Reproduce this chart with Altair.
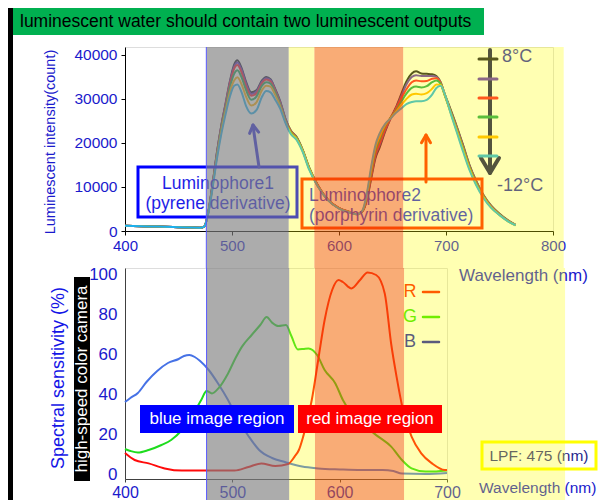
import altair as alt
import pandas as pd

FONT = "Liberation Sans"
AX_BLUE = "#1a1acc"

# ---------------- top panel: luminescence spectra (count) ----------------
wavelength_top = [400, 415, 430, 445, 460, 470, 474, 478, 482, 486, 490, 494, 498, 502, 505,
                  509, 513, 518, 523, 528, 532, 536, 540, 545, 550, 555, 560, 566, 572, 580,
                  590, 600, 610, 617, 622, 626, 630, 634, 638, 643, 648, 653, 658, 663, 668,
                  672, 677, 682, 687, 691, 695, 699, 704, 710, 716, 722, 728, 735, 742, 750,
                  758, 765]

temp_8C = [1200, 1100, 1000, 900, 800, 750, 1000, 4500, 11000, 18000,
           24000, 29000, 34000, 37800, 38800, 37000, 34000, 31500, 32000, 34200,
           35000, 34500, 32500, 29500, 25500, 22800, 21500, 18500, 14500, 10500,
           7000, 5200, 4300, 3800, 4500, 7000, 11800, 16500, 19000, 22500,
           25500, 28000, 31000, 34000, 35800, 36300, 35800, 35700, 35600, 35200,
           33800, 31000, 27800, 23800, 19500, 15000, 11500, 8200, 5800, 3900,
           2400, 1400]
temp_4C = [1200, 1100, 1000, 900, 800, 750, 1000, 4500, 10900, 17900,
           23800, 28800, 33700, 37300, 38300, 36600, 33600, 31100, 31700, 33900,
           34700, 34300, 32300, 29300, 25400, 22700, 21400, 18400, 14400, 10400,
           7000, 5200, 4300, 3800, 4500, 7200, 12200, 17000, 19500, 22800,
           25500, 27800, 30500, 33300, 35000, 35400, 35200, 35200, 35200, 35000,
           33700, 30900, 27600, 23600, 19300, 14800, 11400, 8100, 5700, 3800,
           2350, 1400]
temp_0C = [1200, 1100, 1000, 900, 800, 750, 1000, 4500, 10800, 17700,
           23700, 28600, 33400, 36900, 37700, 36000, 33000, 30700, 31300, 33600,
           34400, 34000, 32100, 29100, 25200, 22600, 21300, 18300, 14300, 10400,
           7000, 5200, 4300, 3800, 4550, 7400, 12600, 17500, 20000, 23200,
           25600, 27600, 30000, 32200, 33800, 34200, 34000, 34100, 34600, 34700,
           33600, 30800, 27400, 23300, 19000, 14600, 11200, 8000, 5600, 3750,
           2300, 1350]
temp_m4C = [1200, 1100, 1000, 900, 800, 750, 1000, 4400, 10600, 17400,
            23300, 28000, 32600, 35700, 36500, 34900, 32100, 29800, 30600, 33000,
            33800, 33500, 31700, 28800, 25000, 22400, 21200, 18300, 14300, 10300,
            6950, 5150, 4250, 3800, 4600, 7700, 13100, 18200, 20700, 23700,
            25700, 27300, 29300, 31200, 32500, 32800, 32600, 32900, 33800, 34200,
            33400, 30700, 27300, 23100, 18800, 14400, 11000, 7900, 5500, 3700,
            2250, 1350]
temp_m8C = [1200, 1100, 1000, 900, 800, 750, 1000, 4300, 10300, 17000,
            22700, 27300, 31600, 34200, 34900, 33300, 30600, 28500, 29300, 32000,
            33000, 32800, 31100, 28400, 24800, 22200, 21000, 18200, 14200, 10300,
            6950, 5150, 4250, 3800, 4650, 8100, 13800, 18900, 21400, 24000,
            25600, 27000, 28600, 30000, 31000, 31200, 31000, 31300, 32300, 33300,
            33200, 30800, 27100, 22800, 18400, 14100, 10700, 7700, 5400, 3650,
            2200, 1300]
temp_m12C = [1200, 1100, 1000, 900, 800, 750, 1000, 4200, 10000, 16500,
             22000, 26500, 30500, 33000, 33300, 31500, 28500, 26700, 27500, 30500,
             31800, 31500, 30000, 27800, 24500, 22000, 20800, 18000, 14000, 10200,
             6900, 5100, 4200, 3800, 4700, 8500, 14500, 19500, 22200, 24300,
             25500, 26800, 27800, 28800, 29300, 29500, 29500, 29800, 31000, 32500,
             33000, 31000, 27000, 22500, 18000, 13800, 10500, 7500, 5300, 3600,
             2200, 1300]

temp_series = [temp_8C, temp_4C, temp_0C, temp_m4C, temp_m8C, temp_m12C]
temp_colors = ["#10102a", "#5b29c1", "#ff102b", "#13a256", "#ffb000", "#1ab0f0"]

# ---------------- bottom panel: camera spectral sensitivity (%) ----------------
wl_B = [400, 405, 412, 420, 430, 440, 450, 455, 460, 465, 470, 478, 487, 496, 505,
        515, 525, 537, 549, 565, 580, 600, 620, 640, 650, 658, 680, 700]
sens_B = [36, 38, 40.5, 46, 51.5, 55.5, 57.5, 59, 59.5, 58.5, 56.5, 52, 45, 37, 27.5,
          19, 12, 8, 6, 3.7, 2.8, 2.3, 2, 2, 1.5, 0.2, 0, 0.5]
wl_G = [400, 405, 412, 422, 434, 443, 453, 462, 471, 476, 481, 487, 496, 503, 509,
        518, 526, 532, 537, 543, 550, 555, 561, 566, 571, 579, 586, 596, 603, 611,
        624, 636, 648, 658, 667, 680, 690, 700]
sens_G = [12.5, 11.5, 10.7, 12, 14.5, 17, 22, 28.7, 37, 41.5, 40.3, 42.8, 50.3, 58, 63.7,
          69.5, 74.5, 78.5, 75.7, 74, 74.5, 69, 62.3, 62.5, 62.8, 59.5, 52, 45.3, 37, 30.3,
          23.7, 18.7, 13.7, 7, 2.8, 1.2, 1.3, 1.7]
wl_R = [400, 409, 422, 437, 453, 470, 484, 502, 515, 527, 540, 552, 558, 562, 566,
        570, 574, 580, 586, 593, 599, 603, 611, 619, 626, 634, 642, 648, 653, 659,
        667, 676, 686, 698, 700]
sens_R = [10.5, 7, 5.3, 2.8, 1.7, 1.7, 1.7, 1.7, 3.5, 5.3, 4, 5, 8.7, 12, 18.7,
          27, 37, 57, 77, 92, 97, 96, 92.8, 97, 100.7, 99.5, 90.3, 65, 48.7, 32,
          18.7, 10.3, 5.3, 2, 2]

# ---------------- shaded wavelength bands ----------------
band_start = [476, 553, 577, 660]
band_end = [553, 577, 660, 810]
band_fill = ["#7f7f7f", "#ffff00", "#f46806", "#ffff00"]
band_alpha = [0.65, 0.3, 0.55, 0.3]

W_TOP, H_TOP = 428, 184
W_BOT, H_BOT = 322, 211
GAP = 37

one = pd.DataFrame({"k": [0]})
bands = pd.DataFrame({"start": band_start, "end": band_end, "fill": band_fill, "alpha": band_alpha})


def box(x, x2, y, y2, **kw):
    return alt.Chart(one).mark_rect(**kw).encode(
        x=alt.value(x), x2=alt.value(x2), y=alt.value(y), y2=alt.value(y2))


def label(txt, x, y, **kw):
    return alt.Chart(one).mark_text(text=txt, font=FONT, **kw).encode(
        x=alt.value(x), y=alt.value(y))


def seg(x, y, x2, y2, color, width):
    return alt.Chart(one).mark_rule(color=color, strokeWidth=width, strokeCap="round").encode(
        x=alt.value(x), y=alt.value(y), x2=alt.value(x2), y2=alt.value(y2))


# ---------- top chart ----------
xs_top = alt.Scale(domain=[400, 800], nice=False, zero=False)
ys_top = alt.Scale(domain=[0, 41800], nice=False)
xax_top = alt.Axis(values=[400, 500, 600, 700, 800], format="d", title=None, grid=False,
                   labelColor=AX_BLUE, labelFontSize=15, labelFont=FONT, tickSize=4,
                   tickColor="#000", domainColor="#000", labelPadding=3,
                   labelFlush=False, labelOverlap=False)
yax_top = alt.Axis(values=[0, 10000, 20000, 30000, 40000], format="d", title=None, grid=False,
                   labelColor=AX_BLUE, labelFontSize=15.5, labelFont=FONT, tickSize=4,
                   tickColor="#000", domainColor="#000", labelPadding=4,
                   labelFlush=False, labelOverlap=False)

top_layers = [
    box(-117, -112, -39, 453, color="#000000"),
    box(-112, 359, -39, -12, color="#00b050"),
    label("luminescent water should contain two luminescent outputs", -105, -25.5,
          align="left", baseline="middle", fontSize=17.5, color="#000000"),
    label("Luminescent intensity(count)", -74, 95, angle=270, align="center",
          baseline="middle", fontSize=14.5, color=AX_BLUE),
]
for vals, col in zip(temp_series, temp_colors):
    df = pd.DataFrame({"wl": wavelength_top, "I": vals})
    top_layers.append(
        alt.Chart(df).mark_line(color=col, strokeWidth=2, interpolate="monotone").encode(
            x=alt.X("wl:Q", scale=xs_top, axis=xax_top),
            y=alt.Y("I:Q", scale=ys_top, axis=yax_top)))

# Luminophore 1 box + arrow
top_layers += [
    box(13, 172, 120, 170, fillOpacity=0, stroke="#0000ff", strokeWidth=3),
    label("Luminophore1", 93, 137, align="center", baseline="middle", fontSize=17.5, color="#1e1ee6"),
    label("(pyrene derivative)", 93, 157, align="center", baseline="middle", fontSize=17.5, color="#1e1ee6"),
    seg(134, 120, 128, 79, "#2a2ae0", 3),
    seg(128, 78, 124.6, 86.4, "#2a2ae0", 3),
    seg(128, 78, 133.6, 85.1, "#2a2ae0", 3),
    # Luminophore 2 box + arrow
    box(177, 357, 132, 181, fillOpacity=0, stroke="#ff1e00", strokeWidth=3),
    label("Luminophore2", 184, 149, align="left", baseline="middle", fontSize=17.5, color="#1e1ee6"),
    label("(porphyrin derivative)", 184, 169, align="left", baseline="middle", fontSize=17.5, color="#1e1ee6"),
    seg(301, 135, 301, 89, "#ff1e00", 3),
    seg(301, 88, 296.5, 95.8, "#ff1e00", 3),
    seg(301, 88, 305.5, 95.8, "#ff1e00", 3),
    # temperature arrow legend
    seg(365, 3, 365, 124, "#0a0a5a", 4),
    seg(365, 126, 356, 111, "#0a0a5a", 4),
    seg(365, 126, 374, 111, "#0a0a5a", 4),
]
for ty, col in zip([12, 32, 51, 70, 90, 109], temp_colors):
    top_layers.append(seg(354, ty, 372, ty, col, 3))
top_layers += [
    label("8°C", 377, 10, align="left", baseline="middle", fontSize=18, color="#1e1eb4"),
    label("-12°C", 372, 139, align="left", baseline="middle", fontSize=18, color="#1e1eb4"),
    alt.Chart(bands).mark_rect().encode(
        x=alt.X("start:Q", scale=xs_top, axis=xax_top), x2="end:Q",
        y=alt.value(0), y2=alt.value(H_TOP + GAP),
        color=alt.Color("fill:N", scale=None), opacity=alt.Opacity("alpha:Q", scale=None)),
    alt.Chart(bands.iloc[:1]).mark_rule(color="#5a5aff", strokeWidth=1).encode(
        x=alt.X("start:Q", scale=xs_top, axis=xax_top), y=alt.value(0), y2=alt.value(H_TOP + GAP)),
]
top = alt.layer(*top_layers).properties(width=W_TOP, height=H_TOP)

# ---------- bottom chart ----------
xs_bot = alt.Scale(domain=[400, 700], nice=False, zero=False)
ys_bot = alt.Scale(domain=[-2.5, 103], nice=False, zero=False)
xax_bot = alt.Axis(values=[400, 500, 600, 700], format="d", title=None, grid=False,
                   labelColor=AX_BLUE, labelFontSize=16, labelFont=FONT, tickSize=3,
                   tickColor="#404040", domainColor="#404040", labelPadding=2,
                   labelFlush=False, labelOverlap=False)
yax_bot = alt.Axis(values=[0, 20, 40, 60, 80, 100], format="d", title=None, grid=False,
                   labelColor=AX_BLUE, labelFontSize=17, labelFont=FONT, tickSize=0,
                   domainColor="#404040", labelPadding=8,
                   labelFlush=False, labelOverlap=False)

bot_layers = [
    label("Spectral sensitivity  (%)", -66, 110, angle=270, align="center", baseline="middle",
          fontSize=18, color="#1414e6"),
    box(-51, -35, 9, 213, color="#000000"),
    label("high-speed color camera", -43, 111, angle=270, align="center", baseline="middle",
          fontSize=17, color="#ffffff"),
]
for wl, sv, col in [(wl_B, sens_B, "#4672e6"), (wl_G, sens_G, "#1edc1e"), (wl_R, sens_R, "#ff0a0a")]:
    df = pd.DataFrame({"wl": wl, "s": sv})
    bot_layers.append(
        alt.Chart(df).mark_line(color=col, strokeWidth=2, interpolate="monotone").encode(
            x=alt.X("wl:Q", scale=xs_bot, axis=xax_bot),
            y=alt.Y("s:Q", scale=ys_bot, axis=yax_bot)))
for name, ly, col in [("R", 24, "#ff1400"), ("G", 49, "#33e600"), ("B", 74, "#1414b4")]:
    bot_layers += [
        label(name, 285, ly, align="center", baseline="middle", fontSize=18, color=col),
        seg(298, ly, 314, ly, col, 2.5),
    ]
bot_layers += [
    box(357, 471, 174, 201, fillOpacity=0, stroke="#ffff00", strokeWidth=3),
    label("LPF: 475 (nm)", 414, 188, align="center", baseline="middle", fontSize=15.5, color="#26268c"),
    label("Wavelength (nm)", 334, 8, align="left", baseline="middle", fontSize=17, color="#1a1acc"),
    label("Wavelength (nm)", 354, 220, align="left", baseline="middle", fontSize=15.5, color="#1a1acc"),
    alt.Chart(bands).mark_rect().encode(
        x=alt.X("start:Q", scale=xs_bot, axis=xax_bot), x2="end:Q",
        y=alt.value(0), y2=alt.value(232),
        color=alt.Color("fill:N", scale=None), opacity=alt.Opacity("alpha:Q", scale=None)),
    alt.Chart(bands.iloc[:1]).mark_rule(color="#5a5aff", strokeWidth=1).encode(
        x=alt.X("start:Q", scale=xs_bot, axis=xax_bot), y=alt.value(0), y2=alt.value(232)),
    box(15, 169, 137, 165, color="#0000ff"),
    label("blue image region", 92, 151, align="center", baseline="middle", fontSize=17, color="#ffffff"),
    box(173, 317, 137, 165, color="#ff0000"),
    label("red image region", 245, 151, align="center", baseline="middle", fontSize=17, color="#ffffff"),
]
bottom = alt.layer(*bot_layers).properties(width=W_BOT, height=H_BOT)

# fixed page-sized canvas: content outside the 591x492 area is clipped
chart = alt.vconcat(top, bottom, spacing=GAP, bounds="flush").properties(
    autosize=alt.AutoSizeParams(type="none"),
    padding={"left": 117, "top": 39, "right": 474, "bottom": 453},
).configure_view(stroke="#808080", strokeWidth=1).configure(background="#ffffff")

chart.save("out.html", embed_options={"renderer": "svg", "actions": False})
